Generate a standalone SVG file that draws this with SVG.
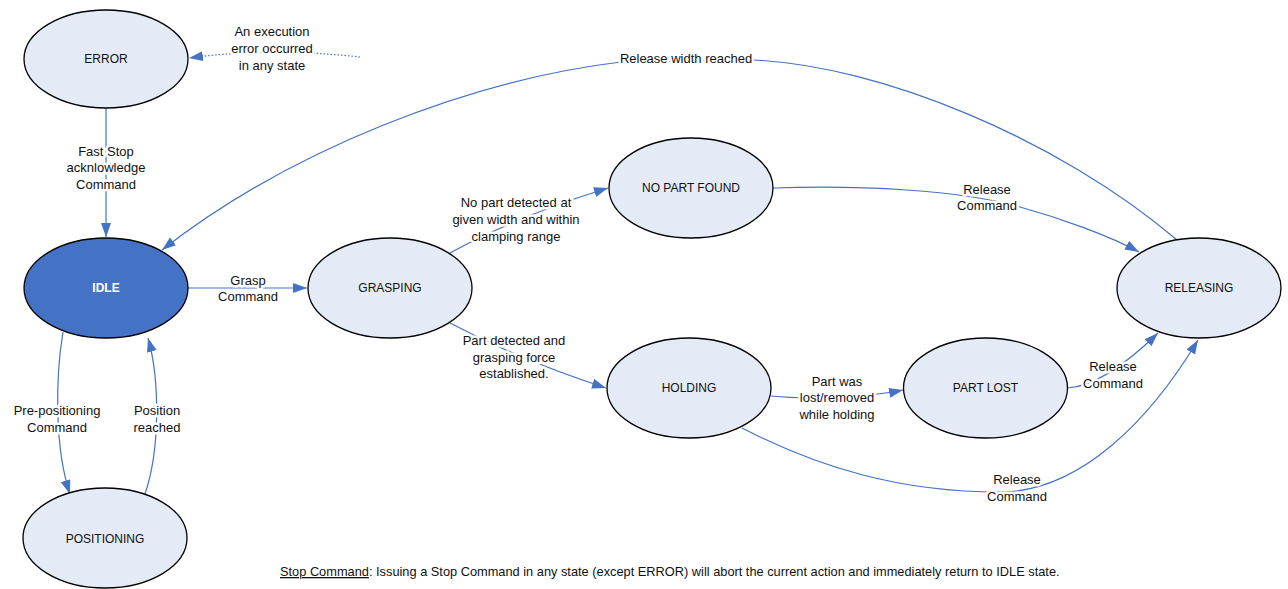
<svg xmlns="http://www.w3.org/2000/svg" width="1288" height="589" viewBox="0 0 1288 589">
<style>
.node{fill:#E5EBF6;stroke:#000;stroke-width:1.3}
.idle{fill:#4472C4;stroke:#000;stroke-width:1.3}
.nl{font-family:"Liberation Sans",Arial,sans-serif;font-size:12px;fill:#111;text-anchor:middle}
.nlw{font-family:"Liberation Sans",Arial,sans-serif;font-size:12px;fill:#fff;font-weight:bold;text-anchor:middle}
.edge{fill:none;stroke:#4472C4;stroke-width:1.2}
.dot{stroke-dasharray:1.5 2}
.el{font-family:"Liberation Sans",Arial,sans-serif;font-size:13px;fill:#111;text-anchor:middle;stroke:#fff;stroke-width:5;stroke-linejoin:round;paint-order:stroke}
.fn{font-family:"Liberation Sans",Arial,sans-serif;font-size:12.8px;fill:#111}
</style>
<defs>
<marker id="arr" markerUnits="userSpaceOnUse" markerWidth="15" markerHeight="11" refX="14" refY="5" orient="auto">
<path d="M0,0 L14,5 L0,10 z" fill="#4472C4"/>
</marker>
</defs>
<g id="connectors">
<path class="edge dot" d="M360,57 Q270,47 189,58" marker-end="url(#arr)"/>
<path class="edge" d="M106,108 L106,237" marker-end="url(#arr)"/>
<path class="edge" d="M1177,240 C1060,140 880,65 752,60 L621,62 C470,80 290,150 162,250" marker-end="url(#arr)"/>
<path class="edge" d="M188,288 L307,288" marker-end="url(#arr)"/>
<path class="edge" d="M63,332 C55,380 55,450 70,494" marker-end="url(#arr)"/>
<path class="edge" d="M145,494 C160,450 160,380 148,338" marker-end="url(#arr)"/>
<path class="edge" d="M450,253 Q520,215 608,188" marker-end="url(#arr)"/>
<path class="edge" d="M450,323 Q520,360 606,388" marker-end="url(#arr)"/>
<path class="edge" d="M773,188 C860,185 960,190 1020,207 C1060,218 1110,236 1139,252" marker-end="url(#arr)"/>
<path class="edge" d="M771,396 C800,399 860,399 903,390" marker-end="url(#arr)"/>
<path class="edge" d="M1067,388 C1090,387 1120,370 1158,333" marker-end="url(#arr)"/>
<path class="edge" d="M742,428 C820,468 900,492 1000,492 C1080,492 1150,420 1198,340" marker-end="url(#arr)"/>
</g>
<g id="edge-labels">
<text class="el"><tspan x="272" y="36">An execution</tspan><tspan x="272" y="53">error occurred</tspan><tspan x="272" y="70">in any state</tspan></text>
<text class="el"><tspan x="106" y="156">Fast Stop</tspan><tspan x="106" y="172">acknlowledge</tspan><tspan x="106" y="189">Command</tspan></text>
<text class="el" x="686" y="63">Release width reached</text>
<text class="el"><tspan x="248" y="285">Grasp</tspan><tspan x="248" y="301">Command</tspan></text>
<text class="el"><tspan x="57" y="415">Pre-positioning</tspan><tspan x="57" y="432">Command</tspan></text>
<text class="el"><tspan x="157" y="415">Position</tspan><tspan x="157" y="432">reached</tspan></text>
<text class="el"><tspan x="516" y="207">No part detected at</tspan><tspan x="516" y="224">given width and within</tspan><tspan x="516" y="241">clamping range</tspan></text>
<text class="el"><tspan x="514" y="345">Part detected and</tspan><tspan x="514" y="362">grasping force</tspan><tspan x="514" y="378">established.</tspan></text>
<text class="el"><tspan x="987" y="194">Release</tspan><tspan x="987" y="210">Command</tspan></text>
<text class="el"><tspan x="837" y="386">Part was</tspan><tspan x="837" y="402">lost/removed</tspan><tspan x="837" y="419">while holding</tspan></text>
<text class="el"><tspan x="1113" y="371">Release</tspan><tspan x="1113" y="388">Command</tspan></text>
<text class="el"><tspan x="1017" y="484">Release</tspan><tspan x="1017" y="501">Command</tspan></text>
</g>
<g id="ERROR"><ellipse class="node" cx="106" cy="59" rx="82" ry="49"/><text class="nl" x="106" y="63">ERROR</text></g>
<g id="IDLE"><ellipse class="idle" cx="106" cy="288" rx="82" ry="50"/><text class="nlw" x="106" y="292">IDLE</text></g>
<g id="POSITIONING"><ellipse class="node" cx="105" cy="538" rx="82" ry="50"/><text class="nl" x="105" y="543">POSITIONING</text></g>
<g id="GRASPING"><ellipse class="node" cx="390" cy="288" rx="82" ry="50"/><text class="nl" x="390" y="292">GRASPING</text></g>
<g id="NO_PART_FOUND"><ellipse class="node" cx="691" cy="188" rx="82" ry="50"/><text class="nl" x="691" y="192">NO PART FOUND</text></g>
<g id="HOLDING"><ellipse class="node" cx="689" cy="388" rx="82" ry="50"/><text class="nl" x="689" y="392">HOLDING</text></g>
<g id="PART_LOST"><ellipse class="node" cx="985.5" cy="388" rx="82" ry="50"/><text class="nl" x="985.5" y="392">PART LOST</text></g>
<g id="RELEASING"><ellipse class="node" cx="1199" cy="288" rx="82" ry="50"/><text class="nl" x="1199" y="292">RELEASING</text></g>
<g id="footnote">
<text class="fn" x="280" y="576"><tspan text-decoration="underline">Stop Command</tspan>: Issuing a Stop Command in any state (except ERROR) will abort the current action and immediately return to IDLE state.</text>
</g>
</svg>
